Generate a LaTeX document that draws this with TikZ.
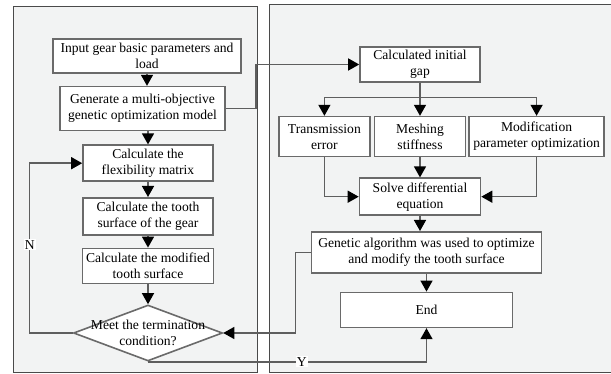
\documentclass[tikz,border=0pt]{standalone}
\usepackage{fontspec}
\setmainfont{Liberation Serif}
\usetikzlibrary{shapes.geometric, arrows.meta, positioning, calc}
\definecolor{panelFill}{HTML}{F2F3F3}
\definecolor{panelBorder}{HTML}{4A4A4A}
\definecolor{boxBorder}{HTML}{6A6A6A}
\definecolor{lineGray}{HTML}{5E5E5E}

\begin{document}
\begin{tikzpicture}[
    x=1pt, y=-1pt,
    node distance=12pt,
    panel/.style={draw=panelBorder, fill=panelFill, line width=1pt},
    pbox/.style={rectangle, draw=boxBorder, fill=white, line width=1.6pt,
                 font=\fontsize{13.6}{16}\selectfont, align=center, inner sep=1pt},
    dbox/.style={diamond, draw=boxBorder, fill=white, line width=1.6pt,
                 minimum width=149pt, minimum height=56pt, inner sep=0pt},
    arr/.style={-{Triangle[length=11pt, width=12pt, color=black]}, line width=1.4pt, color=lineGray},
    ln/.style={line width=1.4pt, color=lineGray},
    tag/.style={fill=white, text=black, font=\fontsize{13.6}{16}\selectfont, inner sep=1pt},
]
\useasboundingbox (0,0) rectangle (611,374);

% two panels
\draw[panel] (13,7) rectangle (257,372);
\draw[panel] (269,5) rectangle (614,372);

% left column
\node[pbox, minimum width=188pt, minimum height=34pt] (input) at (147,56) {Input gear basic parameters and\\load};
\node[pbox, minimum width=165pt, minimum height=44pt, below=12pt of input, xshift=-4.5pt] (gen) {Generate a multi-objective\\genetic optimization model};
\node[pbox, minimum width=130pt, minimum height=36pt, below=13pt of gen, xshift=5.5pt] (flex) {Calculate the\\flexibility matrix};
\node[pbox, minimum width=130pt, minimum height=37pt, below=15pt of flex] (tooth) {Calculate the tooth\\surface of the gear};
\node[pbox, minimum width=131pt, minimum height=35pt, below=12pt of tooth] (modsurf) {Calculate the modified\\tooth surface};
\node[dbox, below=20pt of modsurf,
      label={[align=center, font=\fontsize{13.6}{16}\selectfont]center:Meet the termination\\condition?}] (cond) {};

% right column
\node[pbox, minimum width=120pt, minimum height=35pt] (gap) at (420,64.5) {Calculated initial\\gap};
\node[pbox, minimum width=91pt, minimum height=40pt, below=33pt of gap] (mesh) {Meshing\\stiffness};
\node[pbox, minimum width=91pt, minimum height=40pt, left=3pt of mesh] (trans) {Transmission\\error};
\node[pbox, minimum width=135pt, minimum height=40pt, right=2pt of mesh] (modpar) {Modification\\parameter optimization};
\node[pbox, minimum width=121pt, minimum height=37pt, below=20pt of mesh] (solve) {Solve differential\\equation};
\node[pbox, minimum width=230pt, minimum height=41pt, below=15pt of solve, xshift=6.5pt] (ga) {Genetic algorithm was used to optimize\\and modify the tooth surface};
\node[pbox, minimum width=172pt, minimum height=35pt, below=18pt of ga] (end) {End};

% left flow
\draw[arr] (input.south) -- (input.south |- gen.north);
\draw[arr] (flex.north |- gen.south) -- (flex.north);
\draw[arr] (flex) -- (tooth);
\draw[arr] (tooth) -- (modsurf);
\draw[arr] (modsurf) -- (cond);
\draw[arr] (cond.west) -- ++(-43,0) |- (flex.west) node[tag, pos=0.26] {N};

% over to the right
\draw[arr] (gen.east) -- ++(30,0) |- (gap.west);
\draw[ln] (gap.south) -- ++(0,15) coordinate (split);
\draw[arr] (split) -| (trans.north);
\draw[arr] (split) -| (modpar.north);
\draw[arr] (split) -- (split |- mesh.north);
\draw[arr] (trans.south) |- (solve.west);
\draw[arr] (modpar.south) |- (solve.east);
\draw[arr] (mesh) -- (solve);
\draw[arr] (solve.south) -- (solve.south |- ga.north);
\draw[arr] (ga) -- (end);

% back to the check
\draw[arr] (ga.west) -- ++(-15,0) |- (cond.east);
\draw[arr] (cond.south) -| (end.south) node[tag, pos=0.276] {Y};

\end{tikzpicture}
\end{document}
